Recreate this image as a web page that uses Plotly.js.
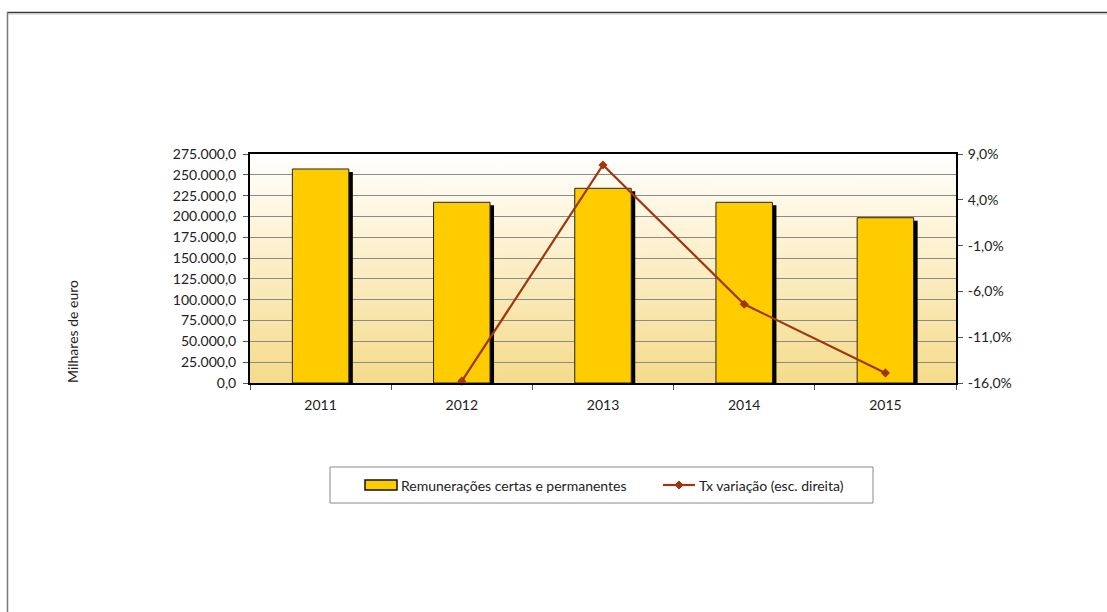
<!DOCTYPE html>
<html>
<head>
<meta charset="utf-8">
<script src="https://cdn.plot.ly/plotly-3.0.1.min.js"></script>
<style>
html,body{margin:0;padding:0;background:#fff;}
#chart{width:1107px;height:612px;}
</style>
</head>
<body>
<div id="chart"></div>
<script>
// ---- data ----
const years = ['2011', '2012', '2013', '2014', '2015'];
const remuneracoes = [257000, 217000, 233800, 217000, 198500];
const txVariacao = [null, -15.8, 7.8, -7.4, -14.9];
const rightTicks = [-16, -11, -6, -1, 4, 9];
const barName = 'Remunerações certas e permanentes';
const lineName = 'Tx variação (esc. direita)';
const yTitle = 'Milhares de euro';

// ---- layout geometry (pixels) ----
const W = 1107, H = 612;
const L = 250, R = 956, T = 154, B = 383;
const pw = R - L, ph = B - T;
const px = x => (x - L) / pw;
const py = y => (B - y) / ph;

const pctText = v => v.toFixed(1).replace('.', ',') + '%';

// background gradient image
const cv = document.createElement('canvas');
cv.width = 10; cv.height = 229;
const ctx = cv.getContext('2d');
const g = ctx.createLinearGradient(0, 0, 0, 229);
g.addColorStop(0, '#ffffff');
g.addColorStop(0.35, '#fdf3d6');
g.addColorStop(1, '#f5db8a');
ctx.fillStyle = g;
ctx.fillRect(0, 0, 10, 229);
const bgUrl = cv.toDataURL();

const font = 'Lato, "Open Sans", sans-serif';
const fs = 14;
const txt = {family: font, size: fs, color: '#222'};
const shadowDy = 3 * 275000 / ph;
const lineColor = '#a0360c';

const traces = [
  {
    type: 'bar', x: years, y: remuneracoes, base: -shadowDy,
    width: 0.4, offset: -0.2 + 4 / (pw / 5),
    marker: {color: '#000000', line: {width: 0}},
    showlegend: false, hoverinfo: 'skip'
  },
  {
    type: 'bar', x: years, y: remuneracoes, name: barName,
    width: 0.4, offset: -0.2, showlegend: false,
    marker: {color: '#ffcc00', line: {color: '#222222', width: 1}}
  },
  {
    type: 'scatter', mode: 'lines+markers', x: years, y: txVariacao,
    name: lineName, yaxis: 'y2', cliponaxis: false, showlegend: false,
    line: {color: lineColor, width: 2.2},
    marker: {symbol: 'diamond', size: 7, color: lineColor}
  }
];

// legend geometry
const legY = 485;
const dx = 4, dy = 4;
const diamond = 'M ' + px(679) + ',' + py(legY - dy) + ' L ' + px(679 + dx) + ',' + py(legY) +
  ' L ' + px(679) + ',' + py(legY + dy) + ' L ' + px(679 - dx) + ',' + py(legY) + ' Z';

const layout = {
  width: W, height: H,
  margin: {l: L, r: W - R, t: T, b: H - B, pad: 0},
  paper_bgcolor: '#ffffff',
  plot_bgcolor: 'rgba(0,0,0,0)',
  separators: ',.',
  barmode: 'overlay',
  font: txt,
  showlegend: false,
  xaxis: {
    type: 'category', range: [-0.5, 4.5],
    showline: true, linecolor: '#000', linewidth: 2, mirror: true,
    ticks: 'outside', ticklen: 5, tickcolor: '#555', tickson: 'boundaries',
    showgrid: false, ticklabelstandoff: 8,
    tickfont: txt, fixedrange: true
  },
  yaxis: {
    range: [0, 275000], dtick: 25000, tick0: 0, tickformat: ',.1f',
    showline: true, linecolor: '#000', linewidth: 2, mirror: true,
    ticks: 'outside', ticklen: 5, tickcolor: '#555',
    showgrid: true, gridcolor: '#8a8a8a', gridwidth: 1, zeroline: false,
    ticklabelstandoff: 4,
    tickfont: txt, fixedrange: true
  },
  yaxis2: {
    overlaying: 'y', side: 'right', range: [-16, 9],
    tickmode: 'array', tickvals: rightTicks, ticktext: rightTicks.map(pctText),
    showline: true, linecolor: '#000', linewidth: 2,
    ticks: 'outside', ticklen: 5, tickcolor: '#555',
    showgrid: false, zeroline: false, ticklabelstandoff: 2,
    tickfont: txt, fixedrange: true
  },
  images: [{
    source: bgUrl, xref: 'paper', yref: 'paper', x: 0, y: 1,
    sizex: 1, sizey: 1, sizing: 'stretch', xanchor: 'left', yanchor: 'top',
    layer: 'below'
  }],
  annotations: [
    {text: yTitle, xref: 'paper', yref: 'paper', x: px(72), y: py(332),
     xanchor: 'center', yanchor: 'middle',
     showarrow: false, textangle: -90, font: txt},
    {text: barName, xref: 'paper', yref: 'paper', x: px(399), y: py(legY),
     xanchor: 'left', yanchor: 'middle', showarrow: false, font: txt},
    {text: lineName, xref: 'paper', yref: 'paper', x: px(697), y: py(legY),
     xanchor: 'left', yanchor: 'middle', showarrow: false, font: txt}
  ],
  shapes: [
    // outer frame
    {type: 'line', xref: 'paper', yref: 'paper', x0: px(7), x1: px(W), y0: py(12.5), y1: py(12.5),
     line: {color: '#3a3a3a', width: 1.5}},
    {type: 'line', xref: 'paper', yref: 'paper', x0: px(8), x1: px(W), y0: py(14), y1: py(14),
     line: {color: '#c8c8c8', width: 1}},
    {type: 'line', xref: 'paper', yref: 'paper', x0: px(7.5), x1: px(7.5), y0: py(12), y1: py(H),
     line: {color: '#7a7a7a', width: 1.5}},
    // legend box
    {type: 'rect', xref: 'paper', yref: 'paper', x0: px(330), x1: px(873), y0: py(503), y1: py(467),
     line: {color: '#8a8a8a', width: 1}, fillcolor: 'rgba(0,0,0,0)'},
    // legend: bar symbol
    {type: 'rect', xref: 'paper', yref: 'paper', x0: px(365), x1: px(397), y0: py(legY + 5), y1: py(legY - 5),
     line: {color: '#111', width: 1.5}, fillcolor: '#ffcc00'},
    // legend: line symbol
    {type: 'line', xref: 'paper', yref: 'paper', x0: px(663), x1: px(695), y0: py(legY), y1: py(legY),
     line: {color: lineColor, width: 2.2}},
    {type: 'path', xref: 'paper', yref: 'paper', path: diamond,
     line: {color: lineColor, width: 1}, fillcolor: lineColor}
  ]
};

Plotly.newPlot('chart', traces, layout, {displayModeBar: false, staticPlot: true});
</script>
</body>
</html>
